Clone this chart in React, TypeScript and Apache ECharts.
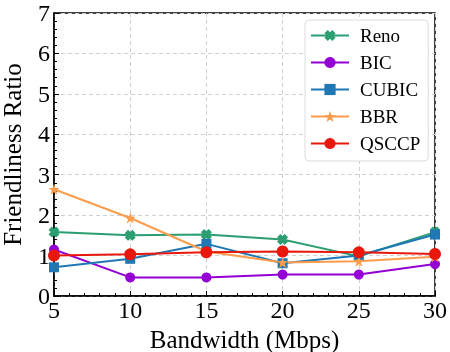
import React, { useEffect, useRef } from "react";
import * as echarts from "echarts";

const bandwidth = [5, 10, 15, 20, 25, 30];
const reno = [1.58, 1.5, 1.52, 1.4, 0.98, 1.58];
const bic = [1.15, 0.46, 0.46, 0.53, 0.53, 0.79];
const cubic = [0.71, 0.92, 1.29, 0.81, 1.0, 1.52];
const bbr = [2.64, 1.93, 1.1, 0.83, 0.86, 0.97];
const qsccp = [1.0, 1.03, 1.08, 1.1, 1.08, 1.04];

const STAR =
  "path://M0,-10 L2.35,-3.24 L9.51,-3.09 L3.8,1.24 L5.88,8.09 L0,4 L-5.88,8.09 L-3.8,1.24 L-9.51,-3.09 L-2.35,-3.24 Z";
const XMARK =
  "path://M-10,-4 L-4,-10 L0,-6 L4,-10 L10,-4 L6,0 L10,4 L4,10 L0,6 L-4,10 L-10,4 L-6,0 Z";

const FONT = "Liberation Serif";

export default function App() {
  const ref = useRef<HTMLDivElement>(null);
  useEffect(() => {
    const chart = echarts.init(ref.current!, null, { renderer: "svg" });
    const mk = (name: string, vals: number[], color: string, symbol: string, size: number) => ({
      name,
      type: "line",
      data: bandwidth.map((b, i) => [b, vals[i]]),
      symbol,
      symbolSize: size,
      itemStyle: { color },
      lineStyle: { color, width: 2 },
    });
    chart.setOption({
      animation: false,
      textStyle: { fontFamily: FONT },
      grid: {
        left: 54,
        right: 15,
        top: 13,
        bottom: 56,
        outerBoundsMode: "none",
        containLabel: false,
        show: true,
        borderColor: "#000",
        borderWidth: 1.5,
        backgroundColor: "transparent",
      },
      legend: {
        orient: "vertical",
        left: 305,
        top: 20,
        backgroundColor: "#fff",
        borderColor: "#dcdcdc",
        borderWidth: 1,
        borderRadius: 4,
        padding: [6, 8, 8, 5],
        itemWidth: 38,
        itemHeight: 14,
        itemGap: 8,
        textStyle: { fontFamily: FONT, fontSize: 19, color: "#000", lineHeight: 18, padding: [0, 0, 0, 6] },
        data: ["Reno", "BIC", "CUBIC", "BBR", "QSCCP"],
      },
      xAxis: {
        type: "value",
        min: 5,
        max: 30,
        interval: 5,
        name: "Bandwidth (Mbps)",
        nameLocation: "middle",
        nameGap: 25,
        nameTextStyle: { fontFamily: FONT, fontSize: 25, color: "#000", lineHeight: 25 },
        axisLine: { show: true, lineStyle: { color: "#000", width: 1.5 } },
        axisTick: { show: true, inside: true, length: 5, lineStyle: { color: "#000" } },
        minorTick: { show: true, splitNumber: 5, length: 3, lineStyle: { color: "#000" } },
        axisLabel: { fontFamily: FONT, fontSize: 24, color: "#000", margin: 2 },
        splitLine: { show: true, lineStyle: { color: "#d0d0d0", type: [4, 3], width: 1 } },
      },
      yAxis: {
        type: "value",
        min: 0,
        max: 7,
        interval: 1,
        name: "Friendliness Ratio",
        nameLocation: "middle",
        nameGap: 29,
        nameTextStyle: { fontFamily: FONT, fontSize: 25, color: "#000", lineHeight: 25 },
        axisLine: { show: true, lineStyle: { color: "#000", width: 1.5 } },
        axisTick: { show: true, inside: true, length: 5, lineStyle: { color: "#000" } },
        minorTick: { show: true, splitNumber: 5, length: 3, lineStyle: { color: "#000" } },
        axisLabel: { fontFamily: FONT, fontSize: 24, color: "#000", margin: 4 },
        splitLine: { show: true, lineStyle: { color: "#d0d0d0", type: [4, 3], width: 1 } },
      },
      series: [
        mk("Reno", reno, "#2b9e72", XMARK, 11),
        mk("BIC", bic, "#9400d3", "circle", 10),
        mk("CUBIC", cubic, "#1f77b4", "rect", 10),
        mk("BBR", bbr, "#fd9c4c", STAR, 11),
        mk("QSCCP", qsccp, "#e8180d", "circle", 12),
      ],
    });
    return () => chart.dispose();
  }, []);
  return <div ref={ref} style={{ position: "fixed", left: 0, top: 0, width: 450, height: 352 }} />;
}
